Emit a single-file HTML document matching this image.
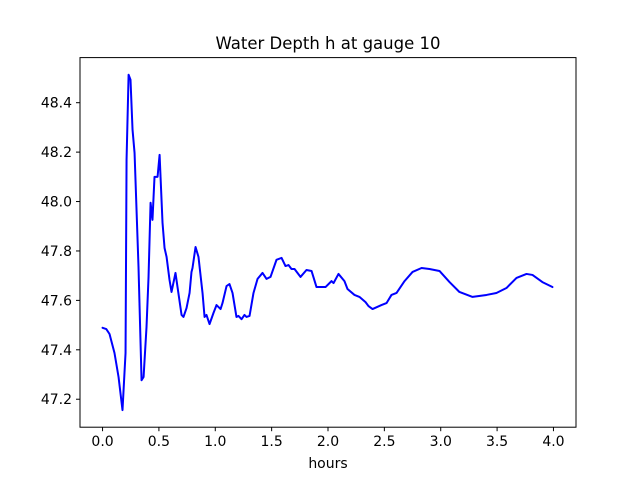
<!DOCTYPE html>
<html><head><meta charset="utf-8"><style>
body{margin:0;background:#fff}
svg{display:block;font-family:"DejaVu Sans","Liberation Sans",sans-serif}
</style></head><body>
<svg id="chart" width="640" height="480">
<rect width="640" height="480" fill="#fff"/>
<text x="328" y="49" text-anchor="middle" font-size="16.5">Water Depth h at gauge 10</text>
<g id="plot"></g>
<rect x="80" y="57.6" width="496" height="369.6" fill="none" stroke="#000" stroke-width="1"/>
<text x="328" y="468" text-anchor="middle" font-size="14">hours</text>
</svg>
<script>
const times=[0,0.033,0.062,0.106,0.142,0.177,0.204,0.213,0.231,0.248,0.266,0.284,0.319,0.346,0.364,0.390,0.408,0.426,0.443,0.461,0.488,0.506,0.532,0.550,0.568,0.594,0.612,0.647,0.665,0.701,0.718,0.745,0.772,0.789,0.798,0.825,0.851,0.887,0.905,0.922,0.949,0.984,1.011,1.047,1.064,1.100,1.126,1.153,1.188,1.206,1.233,1.259,1.277,1.304,1.339,1.375,1.419,1.455,1.490,1.543,1.588,1.623,1.650,1.676,1.703,1.756,1.809,1.854,1.898,1.978,2.031,2.049,2.093,2.146,2.173,2.235,2.279,2.333,2.359,2.395,2.474,2.519,2.563,2.608,2.679,2.750,2.830,2.900,2.989,3.078,3.166,3.282,3.406,3.494,3.583,3.672,3.761,3.814,3.902,3.991];
const depths=[47.489,47.484,47.464,47.387,47.290,47.156,47.387,48.169,48.513,48.493,48.291,48.197,47.735,47.277,47.290,47.492,47.695,47.995,47.926,48.100,48.100,48.189,47.914,47.812,47.776,47.683,47.634,47.711,47.654,47.541,47.533,47.569,47.630,47.715,47.731,47.816,47.776,47.630,47.533,47.541,47.504,47.549,47.581,47.565,47.589,47.658,47.666,47.630,47.533,47.537,47.524,47.541,47.533,47.537,47.630,47.687,47.711,47.687,47.695,47.764,47.772,47.739,47.743,47.727,47.727,47.695,47.723,47.719,47.654,47.654,47.678,47.670,47.707,47.678,47.646,47.622,47.614,47.593,47.577,47.565,47.581,47.589,47.622,47.630,47.678,47.715,47.731,47.727,47.719,47.674,47.634,47.614,47.622,47.630,47.650,47.691,47.707,47.703,47.674,47.654];
const xTicks=[0.0,0.5,1.0,1.5,2.0,2.5,3.0,3.5,4.0];
const yTicks=[47.2,47.4,47.6,47.8,48.0,48.2,48.4];
const X0=80,X1=576,Y0=57.6,Y1=427.2,XMIN=-0.2,XMAX=4.2,YMIN=47.0868,YMAX=48.5825;
const sx=t=>X0+(t-XMIN)/(XMAX-XMIN)*(X1-X0);
const sy=v=>Y1-(v-YMIN)/(YMAX-YMIN)*(Y1-Y0);
const NS="http://www.w3.org/2000/svg";
const g=document.getElementById('plot');
function mk(tag,attrs){const e=document.createElementNS(NS,tag);for(const k in attrs)e.setAttribute(k,attrs[k]);g.appendChild(e);return e;}
xTicks.forEach(t=>{
  const l=mk('line',{x1:sx(t),x2:sx(t),y1:Y1,y2:Y1+4,stroke:'#000'});
  
  
  const tx=mk('text',{x:sx(t),y:Y1+19,'text-anchor':'middle','font-size':'14'});
  tx.textContent=t.toFixed(1);
  
  
});
yTicks.forEach(v=>{
  const l=mk('line',{x1:X0-4,x2:X0,y1:sy(v),y2:sy(v),stroke:'#000'});
  
  
  const tx=mk('text',{x:X0-8,y:sy(v)+5,'text-anchor':'end','font-size':'14'});
  tx.textContent=v.toFixed(1);
  
  
});
const d=times.map((t,i)=>(i?'L':'M')+sx(t).toFixed(2)+','+sy(depths[i]).toFixed(2)).join(' ');
const p=mk('path',{d:d,fill:'none',stroke:'#0000ff','stroke-width':'2','stroke-linejoin':'round','stroke-linecap':'round'});


</script>
</body></html>
